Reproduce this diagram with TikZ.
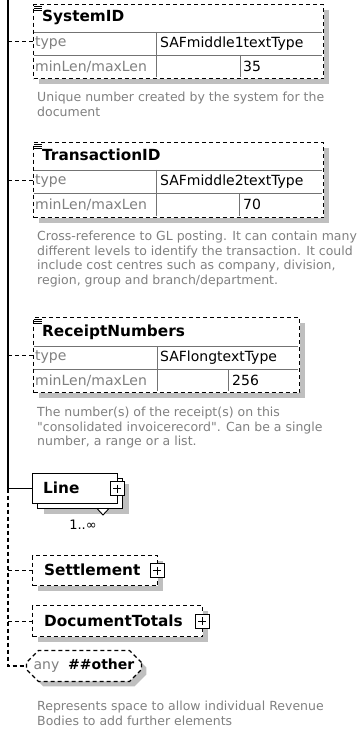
\documentclass[tikz,border=0pt]{standalone}
\usepackage{fontspec}
\setmainfont{DejaVu Sans}[Ligatures=TeXOff]
\usetikzlibrary{positioning,shadows,shapes.misc}

\begin{document}
\begin{tikzpicture}[x=1pt,y=-1pt,
  every node/.style={inner sep=0pt},
  conn/.style={line width=1.2pt,dash pattern=on 4pt off 3pt},
  optbox/.style={draw,fill=white,line width=1.3pt,dash pattern=on 4pt off 3pt,anchor=north west,
    drop shadow={shadow xshift=5pt,shadow yshift=-5pt,fill=black!25,opacity=1}},
  reqbox/.style={draw,fill=white,line width=1pt,anchor=north west,minimum width=85pt,minimum height=30pt},
  grid/.style={black!55,line width=0.9pt},
  elname/.style={font=\fontsize{15.3}{18}\selectfont\bfseries,anchor=west},
  facet/.style={font=\fontsize{14}{17}\selectfont,text=black!50,anchor=west},
  value/.style={font=\fontsize{14}{17}\selectfont,anchor=west},
  descr/.style={font=\fontsize{12.5}{14.5}\selectfont,text=black!50,align=left,anchor=north west},
  plusbox/.style={draw,solid,fill=white,line width=1pt,minimum size=14pt,
    path picture={\draw[line width=1pt]
      ([xshift=3pt]path picture bounding box.west) -- ([xshift=-3pt]path picture bounding box.east)
      ([yshift=-3pt]path picture bounding box.north) -- ([yshift=3pt]path picture bounding box.south);}}]
  \useasboundingbox (0,0) rectangle (363,730);

  % SystemID
  \node[optbox,minimum width=290pt,minimum height=74pt] (sysid) at (33,4) {};
  \draw[grid] (34,32) -- (322,32) (34,55) -- (322,55) (156,32) -- (156,77) (240,55) -- (240,77);
  \node[elname] (sysidname) at (42,17) {SystemID};
  \node[facet] (sysidtype) at (35,43.5) {type};
  \node[value] (sysidtypev) at (160,43.5) {SAFmiddle1textType};
  \node[facet] (sysidlen) at (35,66.5) {minLen/maxLen};
  \node[value] (sysidmax) at (243,66.5) {35};
  \node[descr] (sysiddoc) at (37,92) {Unique number created by the system for the\\document};

  % TransactionID
  \node[optbox,minimum width=290pt,minimum height=75pt] (transid) at (33,142) {};
  \draw[grid] (34,170) -- (322,170) (34,193) -- (322,193) (156,170) -- (156,216) (239,193) -- (239,216);
  \node[elname] (transidname) at (42,155) {TransactionID};
  \node[facet] (transidtype) at (35,181.5) {type};
  \node[value] (transidtypev) at (160,181.5) {SAFmiddle2textType};
  \node[facet] (transidlen) at (35,204.5) {minLen/maxLen};
  \node[value] (transidmax) at (243,204.5) {70};
  \node[descr] (transiddoc) at (37,231) {Cross-reference to GL posting. It can contain many\\different levels to identify the transaction. It could\\include cost centres such as company, division,\\region, group and branch/department.};

  % ReceiptNumbers
  \node[optbox,minimum width=266pt,minimum height=75pt] (receipt) at (33,317) {};
  \draw[grid] (34,346) -- (298,346) (34,369) -- (298,369) (157,346) -- (157,391) (228,369) -- (228,391);
  \node[elname] (receiptname) at (42,332) {ReceiptNumbers};
  \node[facet] (receipttype) at (35,357.5) {type};
  \node[value] (receipttypev) at (160,357.5) {SAFlongtextType};
  \node[facet] (receiptlen) at (35,380.5) {minLen/maxLen};
  \node[value] (receiptmax) at (232,380.5) {256};
  \node[descr] (receiptdoc) at (37,407) {The number(s) of the receipt(s) on this\\"consolidated invoicerecord". Can be a single\\number, a range or a list.};

  \foreach \n in {sysid,transid,receipt}
    \foreach \k in {2,4,6}
      \draw[line width=0.8pt] ([shift={(1pt,-\k pt)}]\n.north west) -- +(8,0);

  % Line (1..unbounded)
  \node[reqbox,drop shadow={shadow xshift=6pt,shadow yshift=-5pt,fill=black!25,opacity=1}] (lineback) at (37,478) {};
  \node[reqbox] (lineel) at (32,473) {};
  \draw[fill=white,line width=0.9pt] ([xshift=17.5pt]lineback.south) -- ([shift={(23pt,-6pt)}]lineback.south) -- ([xshift=28.5pt]lineback.south);
  \node[elname] (linename) at (43,488) {Line};
  \node[plusbox] (lineplus) at ([xshift=-1pt]lineel.east) {};
  \node[font=\fontsize{13}{15}\selectfont] (linemult) at (83,525) {1..∞};

  % Settlement, DocumentTotals
  \node[optbox,minimum width=125pt,minimum height=30pt] (settle) at (32,555) {};
  \node[elname] (settlename) at (44,570) {Settlement};
  \node[plusbox] (settleplus) at ([xshift=-1pt]settle.east) {};
  \node[optbox,minimum width=170pt,minimum height=31pt] (doctot) at (32,605) {};
  \node[elname] (doctotname) at (44,620.5) {DocumentTotals};
  \node[plusbox] (doctotplus) at ([xshift=-1pt]doctot.east) {};

  % any ##other
  \node[optbox,chamfered rectangle,chamfered rectangle xsep=5pt,chamfered rectangle ysep=7pt,
    minimum width=115pt,minimum height=31pt,font=\fontsize{14}{17}\selectfont] (other) at (32,656)
    {\textcolor{black!50}{any}\ \ \textbf{\#\#other}};
  \node[descr] (otherdoc) at (37,701) {Represents space to allow individual Revenue\\Bodies to add further elements};

  % sequence spine
  \coordinate (spine) at (8,0);
  \draw[line width=1.5pt] (spine) |- (lineel.west);
  \draw[conn] (lineel.west -| spine) |- (other.west);
  \foreach \n in {sysid,transid,receipt,settle,doctot}
    \draw[conn] (\n.west -| spine) -- (\n.west);
\end{tikzpicture}
\end{document}
